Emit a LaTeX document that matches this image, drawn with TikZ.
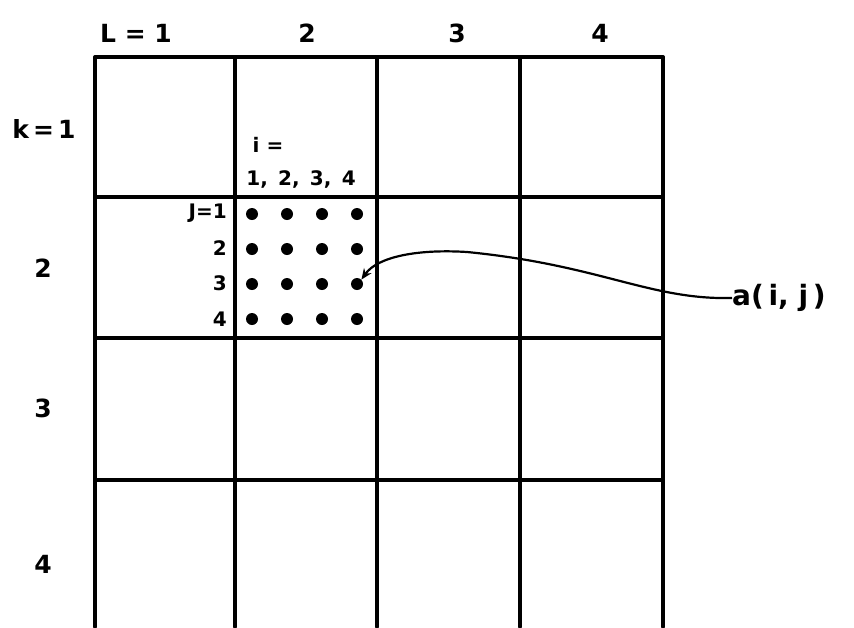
\documentclass[tikz,border=0pt]{standalone}
\usepackage{fontspec}
\setmainfont{DejaVu Sans}
\usetikzlibrary{arrows.meta}

\begin{document}
\begin{tikzpicture}[x=1pt, y=-1pt,
    gridline/.style={line width=3.5pt, line cap=round},
    biglbl/.style={font=\fontsize{25}{27}\selectfont\bfseries, inner sep=0pt},
    smalllbl/.style={font=\fontsize{20}{22}\selectfont\bfseries, inner sep=0pt},
    pt/.style={circle, fill, inner sep=0pt, minimum size=12pt}]
    \useasboundingbox (0,0) rectangle (854,627);

    % grid of blocks, open at the bottom
    \foreach \x in {95,235,377,520,663} {
        \draw[gridline] (\x,57) -- (\x,627);
    }
    \foreach \y in {57,197,338,480} {
        \draw[gridline] (95,\y) -- (663,\y);
    }

    % block indices
    \node[biglbl] (L1) at (136,33) {L = 1};
    \foreach \l/\x in {2/307, 3/457, 4/600} {
        \node[biglbl] (L\l) at (\x,33) {\l};
    }
    \node[biglbl] (K1) at (44,129) {k\,=\,1};
    \foreach \k/\y in {2/268, 3/408, 4/564} {
        \node[biglbl] (K\k) at (43,\y) {\k};
    }

    % points inside one block
    \node[smalllbl] (ieq) at (268,145) {i =};
    \node[smalllbl] (ilist) at (301,179) {1,\ \,2,\ \,3,\ \,4};
    \node[smalllbl, anchor=east] (J1) at (227,213) {J=1};
    \foreach \j/\y in {2/248, 3/283, 4/319} {
        \node[smalllbl, anchor=east] (J\j) at (227,\y) {\j};
    }
    \foreach \i/\x in {1/252, 2/287, 3/322, 4/357} {
        \foreach \j/\y in {1/214, 2/249, 3/284, 4/319} {
            \node[pt] (d\i\j) at (\x,\y) {};
        }
    }

    \node[font=\fontsize{28}{30}\selectfont\bfseries, inner sep=0pt, anchor=west] (aij) at (732,298) {a(\,i,\ j\,)};
    \draw[line width=2.2pt, -{Stealth[length=11pt, width=9pt]}] (aij.west)
        .. controls (650,300) and (600,265) .. (467,252)
        .. controls (420,249) and (378,256) .. (d43.north east);
\end{tikzpicture}
\end{document}
